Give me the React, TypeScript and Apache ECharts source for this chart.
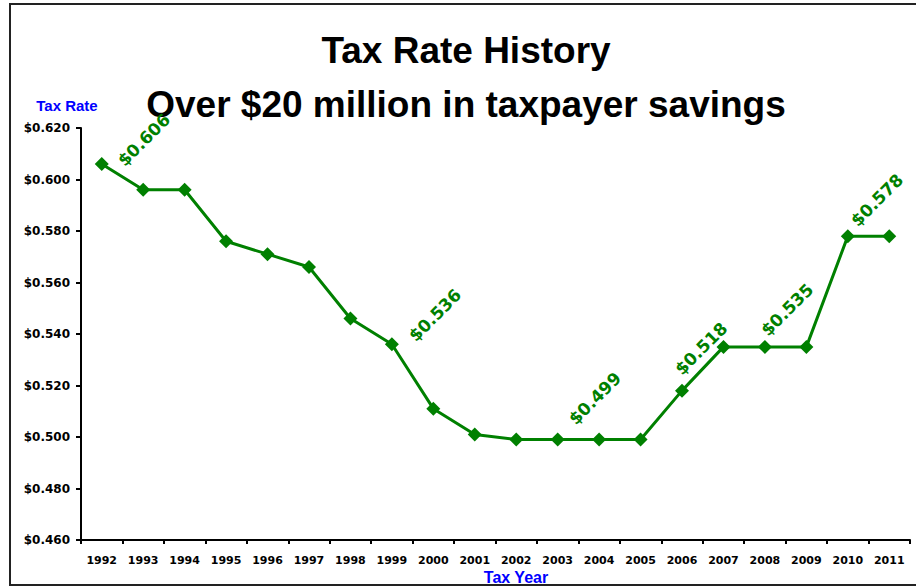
import React, { useEffect, useRef } from "react";
import * as echarts from "echarts";

// Tax years shown on the category axis
const taxYears = [
  "1992", "1993", "1994", "1995", "1996", "1997", "1998", "1999", "2000", "2001",
  "2002", "2003", "2004", "2005", "2006", "2007", "2008", "2009", "2010", "2011",
];

// Tax rate per $100 of valuation for each year
const taxRates = [
  0.606, 0.596, 0.596, 0.576, 0.571, 0.566, 0.546, 0.536, 0.511, 0.501,
  0.499, 0.499, 0.499, 0.499, 0.518, 0.535, 0.535, 0.535, 0.578, 0.578,
];

// Years whose rate is called out next to the marker
const labeledYears = ["1992", "1999", "2003", "2006", "2008", "2010"];

const titleLines = ["Tax Rate History", "Over $20 million in taxpayer savings"];

// Value-axis range and step
const rateMin = 0.46;
const rateMax = 0.62;
const rateStep = 0.02;

// Callout placement relative to the marker centre, in pixels
const calloutOffsets: Record<string, [number, number]> = {
  "1992": [19, -1],
  "1999": [20, -6],
  "2003": [14, -18],
  "2006": [-4, -19],
  "2008": [-1, -14],
  "2010": [6, -13],
};

const GREEN = "#008000";
const SYMBOL = 14;

export default function App() {
  const ref = useRef<HTMLDivElement>(null);

  useEffect(() => {
    if (!ref.current) return;
    const chart = echarts.init(ref.current, undefined, { renderer: "svg" });

    const seriesData = taxRates.map((v, i) => {
      const year = taxYears[i];
      if (!labeledYears.includes(year)) return v;
      const [dx, dy] = calloutOffsets[year] || [0, -12];
      return {
        value: v,
        label: {
          show: true,
          position: [SYMBOL / 2 + dx, SYMBOL / 2 + dy],
          rotate: 45,
          align: "left",
          verticalAlign: "middle",
          formatter: (p: any) => "$" + Number(p.value).toFixed(3),
          color: GREEN,
          fontFamily: "DejaVu Sans",
          fontWeight: "bold",
          fontSize: 17,
        },
      };
    });

    chart.setOption({
      animation: false,
      backgroundColor: "#ffffff",
      grid: {
        left: 81,
        top: 128,
        right: 6,
        bottom: 46,
        containLabel: false,
        outerBoundsMode: "none",
      },
      xAxis: {
        type: "category",
        data: taxYears,
        boundaryGap: true,
        axisLine: { lineStyle: { color: "#000", width: 2 } },
        axisTick: { show: true, length: 4, inside: false, lineStyle: { color: "#000", width: 2 } },
        axisLabel: {
          color: "#000",
          fontFamily: "DejaVu Sans",
          fontWeight: "bold",
          fontSize: 11,
          margin: 15,
          interval: 0,
        },
        splitLine: { show: false },
      },
      yAxis: {
        type: "value",
        min: rateMin,
        max: rateMax,
        interval: rateStep,
        axisLine: { show: true, lineStyle: { color: "#000", width: 2 } },
        axisTick: { show: true, length: 5, lineStyle: { color: "#000", width: 2 } },
        axisLabel: {
          color: "#000",
          fontFamily: "DejaVu Sans",
          fontWeight: "bold",
          fontSize: 12,
          margin: 11,
          formatter: (v: number) => "$" + v.toFixed(3),
        },
        splitLine: { show: false },
      },
      series: [
        {
          type: "line",
          data: seriesData,
          symbol: "diamond",
          symbolSize: SYMBOL,
          showAllSymbol: true,
          lineStyle: { color: GREEN, width: 3 },
          itemStyle: { color: GREEN },
          label: { show: false },
          emphasis: { disabled: true },
        },
      ],
      graphic: [
        {
          type: "rect",
          shape: { x: 10, y: 4, width: 920, height: 581 },
          style: { fill: "none", stroke: "#222", lineWidth: 2 },
          silent: true,
        },
        {
          type: "text",
          x: 466,
          y: 50,
          style: {
            text: titleLines[0],
            fill: "#000",
            font: "bold 37px 'Liberation Sans', Arial, sans-serif",
            align: "center",
            verticalAlign: "middle",
          },
        },
        {
          type: "text",
          x: 466,
          y: 104,
          style: {
            text: titleLines[1],
            fill: "#000",
            font: "bold 37px 'Liberation Sans', Arial, sans-serif",
            align: "center",
            verticalAlign: "middle",
          },
        },
        {
          type: "text",
          x: 67,
          y: 105,
          style: {
            text: "Tax Rate",
            fill: "#0000ff",
            font: "bold 15px 'Liberation Sans', Arial, sans-serif",
            align: "center",
            verticalAlign: "middle",
          },
        },
        {
          type: "text",
          x: 516,
          y: 577,
          style: {
            text: "Tax Year",
            fill: "#0000ff",
            font: "bold 16px 'Liberation Sans', Arial, sans-serif",
            align: "center",
            verticalAlign: "middle",
          },
        },
      ],
    });

    return () => chart.dispose();
  }, []);

  return (
    <div
      ref={ref}
      style={{ position: "fixed", left: 0, top: 0, width: 916, height: 586, background: "#fff" }}
    />
  );
}
